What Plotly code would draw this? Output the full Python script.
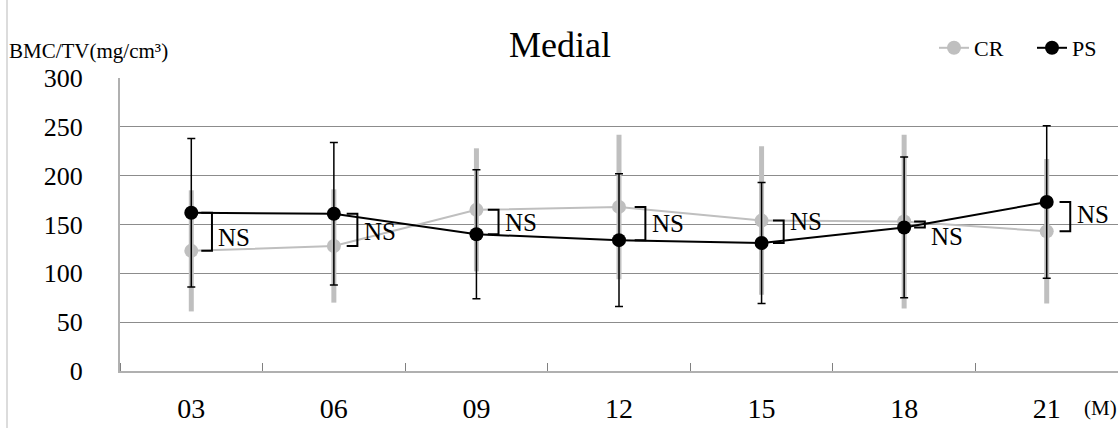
import plotly.graph_objects as go

months = ["03", "06", "09", "12", "15", "18", "21"]
cr_mean = [123, 128, 165, 168, 154, 153, 143]
cr_sd = [62, 58, 63, 74, 76, 89, 74]
ps_mean = [162, 161, 140, 134, 131, 147, 173]
ps_sd = [76, 73, 66, 68, 62, 72, 78]
ns_labels = ["NS"] * 7
y_ticks = [0, 50, 100, 150, 200, 250, 300]

FONT = "Times New Roman, Liberation Serif, serif"
W, H = 1118, 428
L, R, T, B = 120, 0, 78, 57
pw = W - L - R
ph = H - T - B

def px_x(p):
    return (p - L) / pw

def px_y(p):
    return 1 - (p - T) / ph

xs = list(range(len(months)))

fig = go.Figure()
fig.add_trace(go.Scatter(
    x=xs, y=cr_mean, name="CR", mode="lines+markers",
    line=dict(color="#bfbfbf", width=2),
    marker=dict(color="#bfbfbf", size=14),
    error_y=dict(type="data", array=cr_sd, color="#bfbfbf", thickness=5, width=0),
))
fig.add_trace(go.Scatter(
    x=xs, y=ps_mean, name="PS", mode="lines+markers",
    line=dict(color="black", width=2),
    marker=dict(color="black", size=14),
    error_y=dict(type="data", array=ps_sd, color="black", thickness=1.5, width=4),
))

# NS brackets
ns_yshift = [-6, -2, 0, 0, 10, -12, 2]
ns_dx = [0.07, 0.09, 0.08, 0.11, 0.08, 0.07, 0.09]
for i, x in enumerate(xs):
    a, b = cr_mean[i], ps_mean[i]
    x0 = x + ns_dx[i]
    x1 = x0 + 0.075
    fig.add_shape(type="path",
                  path=f"M {x0},{b} L {x1},{b} L {x1},{a} L {x0},{a}",
                  xref="x", yref="y", line=dict(color="black", width=2))
    fig.add_annotation(x=x1 + 0.03, y=(a + b) / 2, xref="x", yref="y",
                       text=ns_labels[i], showarrow=False, xanchor="left",
                       yanchor="middle", yshift=ns_yshift[i],
                       font=dict(family=FONT, size=25, color="black"))

# left page border
fig.add_shape(type="line", xref="paper", yref="paper",
              x0=px_x(7), x1=px_x(7), y0=px_y(0), y1=px_y(H),
              line=dict(color="#d0d0d0", width=1.5))

fig.add_annotation(text="BMC/TV(mg/cm³)", xref="paper", yref="paper",
                   x=px_x(7), y=px_y(51), xanchor="left", yanchor="middle",
                   showarrow=False, font=dict(family=FONT, size=21, color="black"))
fig.add_annotation(text="(M)", xref="paper", yref="paper",
                   x=px_x(1082), y=px_y(408), xanchor="left", yanchor="middle",
                   showarrow=False, font=dict(family=FONT, size=21, color="black"))

fig.update_layout(
    width=W, height=H,
    margin=dict(l=L, r=R, t=T, b=B, autoexpand=False),
    paper_bgcolor="white", plot_bgcolor="white",
    title=dict(text="Medial", x=560 / W, xanchor="center", y=1 - 44 / H,
               yanchor="middle", font=dict(family=FONT, size=36, color="black")),
    legend=dict(orientation="h", x=px_x(934), y=px_y(48), xanchor="left",
                yanchor="middle", font=dict(family=FONT, size=22, color="black"),
                bgcolor="rgba(0,0,0,0)", itemwidth=30, tracegroupgap=0,
                entrywidth=53, entrywidthmode="pixels"),
    font=dict(family=FONT, color="black"),
)
fig.update_xaxes(
    range=[-0.5, 6.5], tickmode="array", tickvals=xs, ticktext=months,
    ticks="", showgrid=False, zeroline=False,
    showline=True, linecolor="#b0b0b0", linewidth=2,
    tickfont=dict(family=FONT, size=28, color="black"),
    ticklabelstandoff=11,
    minor=dict(tickmode="array", tickvals=[i + 0.5 for i in range(-1, 7)],
               ticks="inside", ticklen=8, tickcolor="#808080", tickwidth=1, showgrid=False),
)
fig.update_yaxes(
    range=[0, 300], tickmode="array", tickvals=y_ticks,
    showgrid=True, gridcolor="#8c8c8c", gridwidth=1.3, zeroline=False,
    showline=True, linecolor="#b0b0b0", linewidth=2, ticks="",
    tickfont=dict(family=FONT, size=26, color="black"),
    ticklabelstandoff=30,
)

fig.write_html("out.html", config={"displayModeBar": False},
               post_script="document.body.style.margin='0';document.body.style.overflow='hidden';")
